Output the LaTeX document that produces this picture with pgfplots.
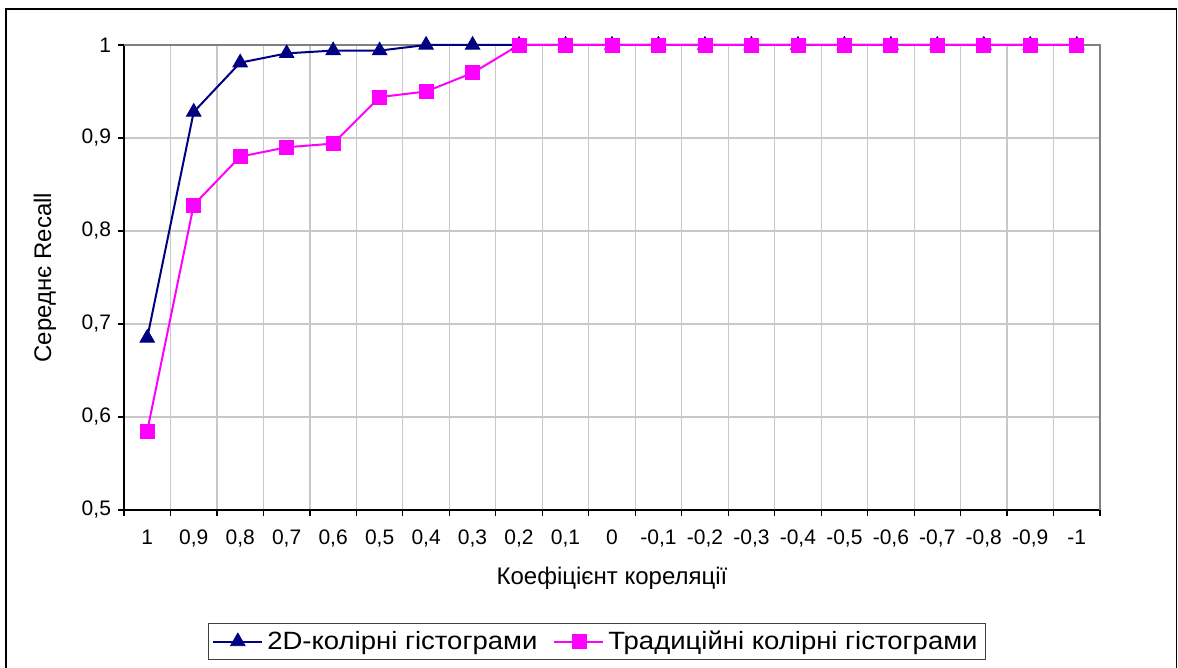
\documentclass[border=0pt]{standalone}
\usepackage{fontspec}
\setmainfont{Liberation Sans}
\newfontfamily\legendfont{Liberation Sans}[FakeStretch=1.1]
\usepackage{pgfplots}
\pgfplotsset{compat=1.18}

\definecolor{seriesA}{HTML}{000080}
\definecolor{seriesB}{HTML}{FF00FF}
\definecolor{gridgray}{HTML}{C8C8C8}
\definecolor{framegray}{HTML}{808080}

\begin{document}
\begin{tikzpicture}
\useasboundingbox (0,0) rectangle (589pt,334pt);
% outer chart frame
\draw[line width=0.8pt] (3pt,0) -- (3pt,329.5pt) -- (588.2pt,329.5pt) -- (588.2pt,0);
\begin{axis}[
  at={(62pt,79pt)}, anchor=south west,
  scale only axis, width=488pt, height=232.5pt,
  xmin=-0.5, xmax=20.5, ymin=0.5, ymax=1,
  clip=false,
  axis lines*=left,
  axis line style={black, line width=0.8pt},
  tick align=outside,
  major tick length=3pt, minor tick length=3pt,
  every tick/.style={black, line width=0.6pt},
  every major x tick/.style={draw=none},
  xtick={0,...,20},
  xticklabels={1,{0,9},{0,8},{0,7},{0,6},{0,5},{0,4},{0,3},{0,2},{0,1},0,{-0,1},{-0,2},{-0,3},{-0,4},{-0,5},{-0,6},{-0,7},{-0,8},{-0,9},-1},
  minor xtick={-0.5,0.5,...,20.5},
  xminorgrids,
  ytick={0.5,0.6,0.7,0.8,0.9,1},
  yticklabels={{0,5},{0,6},{0,7},{0,8},{0,9},1},
  ymajorgrids,
  grid style={gridgray, line width=0.6pt},
  minor grid style={gridgray, line width=0.6pt},
  ticklabel style={font=\fontsize{10.5}{12}\selectfont},
  xticklabel style={yshift=-3.5pt},
  legend columns=2,
  legend style={at={(0.4846,-0.2828)}, anchor=center,
    draw=black!75, line width=0.6pt,
    font=\legendfont\fontsize{12.5}{14}\selectfont,
    inner xsep=2pt, inner ysep=1.5pt,
    /tikz/every even column/.append style={column sep=6pt}},
  legend image code/.code={\draw[mark repeat=2,mark phase=2,#1] plot coordinates {(0pt,0pt)(12.25pt,0pt)(24.5pt,0pt)};},
]
% gray plot-area border on top and right
\draw[framegray, line width=1pt] (rel axis cs:0,1) -- (rel axis cs:1,1) -- (rel axis cs:1,0);

\addplot[seriesA, line width=1pt, mark=triangle*, mark size=4.2pt,
  mark options={fill=seriesA, draw=seriesA, line width=0.4pt}]
  coordinates {(0,0.685) (1,0.928) (2,0.981) (3,0.991) (4,0.994) (5,0.994) (6,1) (7,1) (8,1) (9,1) (10,1) (11,1) (12,1) (13,1) (14,1) (15,1) (16,1) (17,1) (18,1) (19,1) (20,1)};
\addlegendentry{2D-колірні гістограми}

\addplot[seriesB, line width=1pt, mark=square*, mark size=3.5pt,
  mark options={fill=seriesB, draw=seriesB, line width=0.4pt}]
  coordinates {(0,0.585) (1,0.828) (2,0.880) (3,0.890) (4,0.894) (5,0.944) (6,0.950) (7,0.970) (8,1) (9,1) (10,1) (11,1) (12,1) (13,1) (14,1) (15,1) (16,1) (17,1) (18,1) (19,1) (20,1)};
\addlegendentry{Традиційні колірні гістограми}
\end{axis}
% axis titles
\node[font=\fontsize{12}{14}\selectfont] at (306pt,45pt) {Коефіцієнт кореляції};
\node[font=\fontsize{12}{14}\selectfont, rotate=90] at (22.5pt,195.25pt) {Середнє Recall};
\end{tikzpicture}
\end{document}
